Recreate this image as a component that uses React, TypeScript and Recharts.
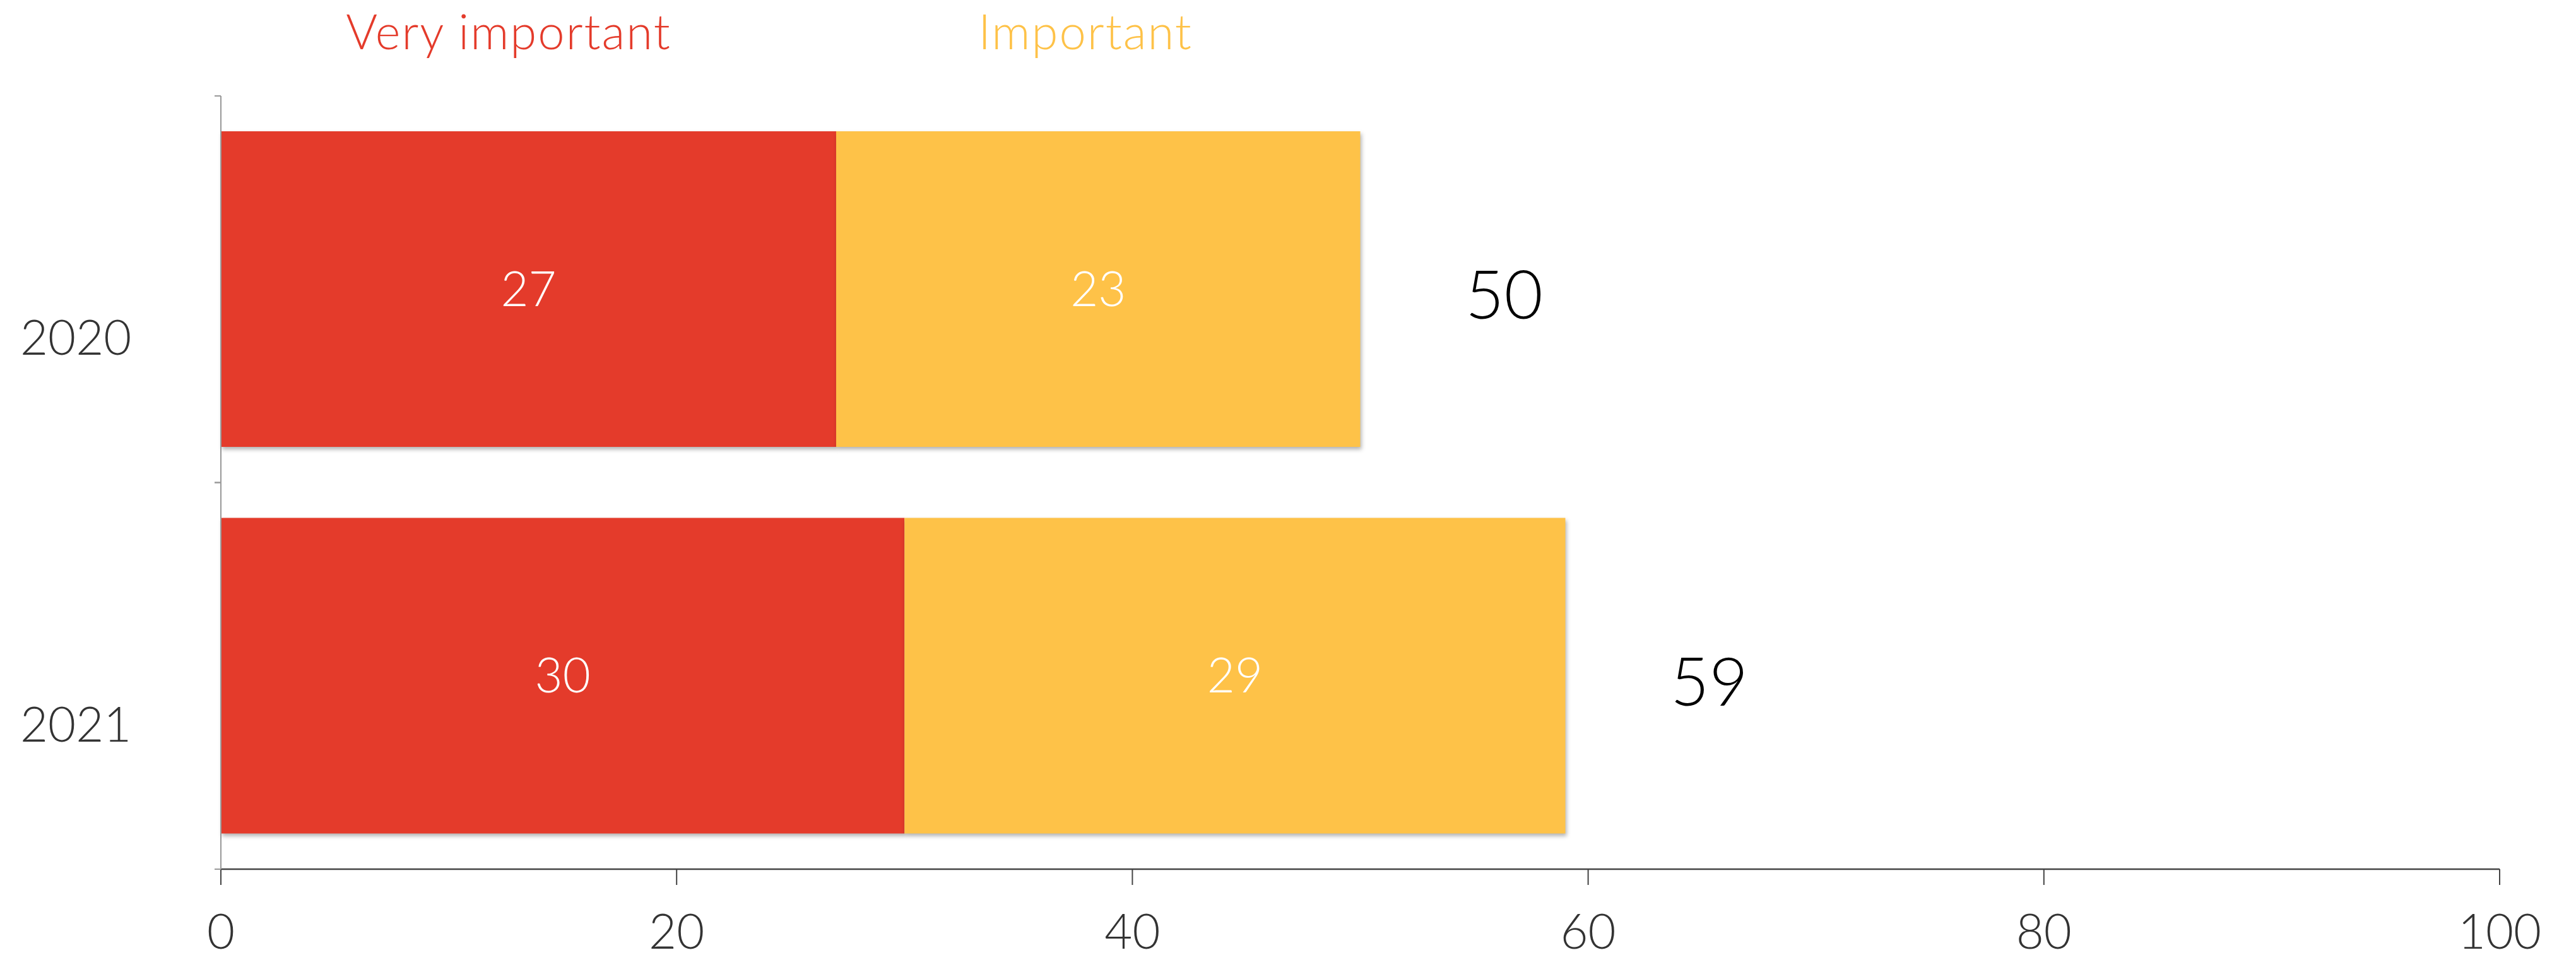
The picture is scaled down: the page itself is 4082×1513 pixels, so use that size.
import React from "react";
import {
  BarChart,
  Bar,
  XAxis,
  YAxis,
  Legend,
  LabelList,
} from "recharts";

const years = ["2020", "2021"];
const veryImportant = [27, 30];
const important = [23, 29];
const xTicks = [0, 20, 40, 60, 80, 100];

const seriesNames = ["Very important", "Important"];
const RED = "#E43B2B";
const YELLOW = "#FEC248";
const FONT = "Lato, 'Open Sans', 'Noto Sans', sans-serif";

const data = years.map((year, i) => ({
  year,
  very: veryImportant[i],
  imp: important[i],
  total: veryImportant[i] + important[i],
}));

// bars with a soft shadow like the original
const ShadowBar = (props: any) => {
  const { x, y, width, height, fill } = props;
  if (!width || !height) return null;
  return (
    <rect
      x={x}
      y={y}
      width={width}
      height={height}
      fill={fill}
      style={{ filter: "drop-shadow(2px 4px 3px rgba(0,0,0,0.3))" }}
    />
  );
};

// year labels sit low and left-aligned; tick marks go between categories
const YearTick = (props: any) => {
  const { x, y, payload } = props;
  const half = payload?.offset ?? 306;
  return (
    <g>
      <line x1={x - 10} x2={x} y1={y - half} y2={y - half} stroke="#999" strokeWidth={2} />
      <line x1={x - 10} x2={x} y1={y + half} y2={y + half} stroke="#999" strokeWidth={2} />
      <text
        x={x - 318}
        y={y + 104}
        textAnchor="start"
        fill="#333"
        fontSize={76}
        fontWeight={300}
        fontFamily={FONT}
      >
        {payload.value}
      </text>
    </g>
  );
};

const ValueTick = (props: any) => {
  const { x, y, payload } = props;
  return (
    <text
      x={x}
      y={y + 101}
      textAnchor="middle"
      fill="#333"
      fontSize={76}
      fontWeight={300}
      fontFamily={FONT}
    >
      {payload.value}
    </text>
  );
};

const TotalLabel = (props: any) => {
  const { x, y, width, height, index } = props;
  return (
    <text
      x={x + width + 228}
      y={y + height / 2 + 6}
      dominantBaseline="central"
      textAnchor="middle"
      fill="#000"
      fontSize={106}
      fontWeight={300}
      fontFamily={FONT}
    >
      {data[index].total}
    </text>
  );
};

const legendLeft = [806, 1720];
const legendColors = [RED, YELLOW];

const TopLegend = () => (
  <div style={{ position: "relative", height: 0, width: 4082 }}>
    {seriesNames.map((name, i) => (
      <span
        key={name}
        style={{
          position: "absolute",
          left: legendLeft[i],
          top: 6,
          transform: "translateX(-50%)",
          whiteSpace: "nowrap",
          color: legendColors[i],
          fontSize: 76,
          fontWeight: 300,
          fontFamily: FONT,
          letterSpacing: 2,
          lineHeight: "86px",
        }}
      >
        {name}
      </span>
    ))}
  </div>
);

export default function App() {
  return (
    <div style={{ position: "absolute", left: 0, top: 0, background: "#fff" }}>
      <BarChart
        width={4082}
        height={1513}
        data={data}
        layout="vertical"
        margin={{ top: 152, right: 121, left: 0, bottom: 0 }}
        barSize={500}
      >
        <XAxis
          type="number"
          domain={[0, 100]}
          ticks={xTicks}
          interval={0}
          height={136}
          tickSize={25}
          tickMargin={0}
          axisLine={{ stroke: "#444", strokeWidth: 2.5 }}
          tickLine={{ stroke: "#444", strokeWidth: 2 }}
          tick={<ValueTick />}
        />
        <YAxis
          type="category"
          dataKey="year"
          width={350}
          tickSize={0}
          tickMargin={0}
          tickLine={false}
          axisLine={{ stroke: "#999", strokeWidth: 2 }}
          tick={<YearTick />}
        />
        <Legend
          verticalAlign="top"
          content={<TopLegend />}
          wrapperStyle={{ left: 0, top: 0, width: 4082 }}
        />
        <Bar
          dataKey="very"
          name={seriesNames[0]}
          stackId="a"
          fill={RED}
          shape={<ShadowBar />}
          isAnimationActive={false}
        >
          <LabelList
            dataKey="very"
            position="center"
            fill="#fff"
            fontSize={76}
            fontWeight={300}
            fontFamily={FONT}
          />
        </Bar>
        <Bar
          dataKey="imp"
          name={seriesNames[1]}
          stackId="a"
          fill={YELLOW}
          shape={<ShadowBar />}
          isAnimationActive={false}
        >
          <LabelList
            dataKey="imp"
            position="center"
            fill="#fff"
            fontSize={76}
            fontWeight={300}
            fontFamily={FONT}
          />
          <LabelList dataKey="total" content={<TotalLabel />} />
        </Bar>
      </BarChart>
    </div>
  );
}
